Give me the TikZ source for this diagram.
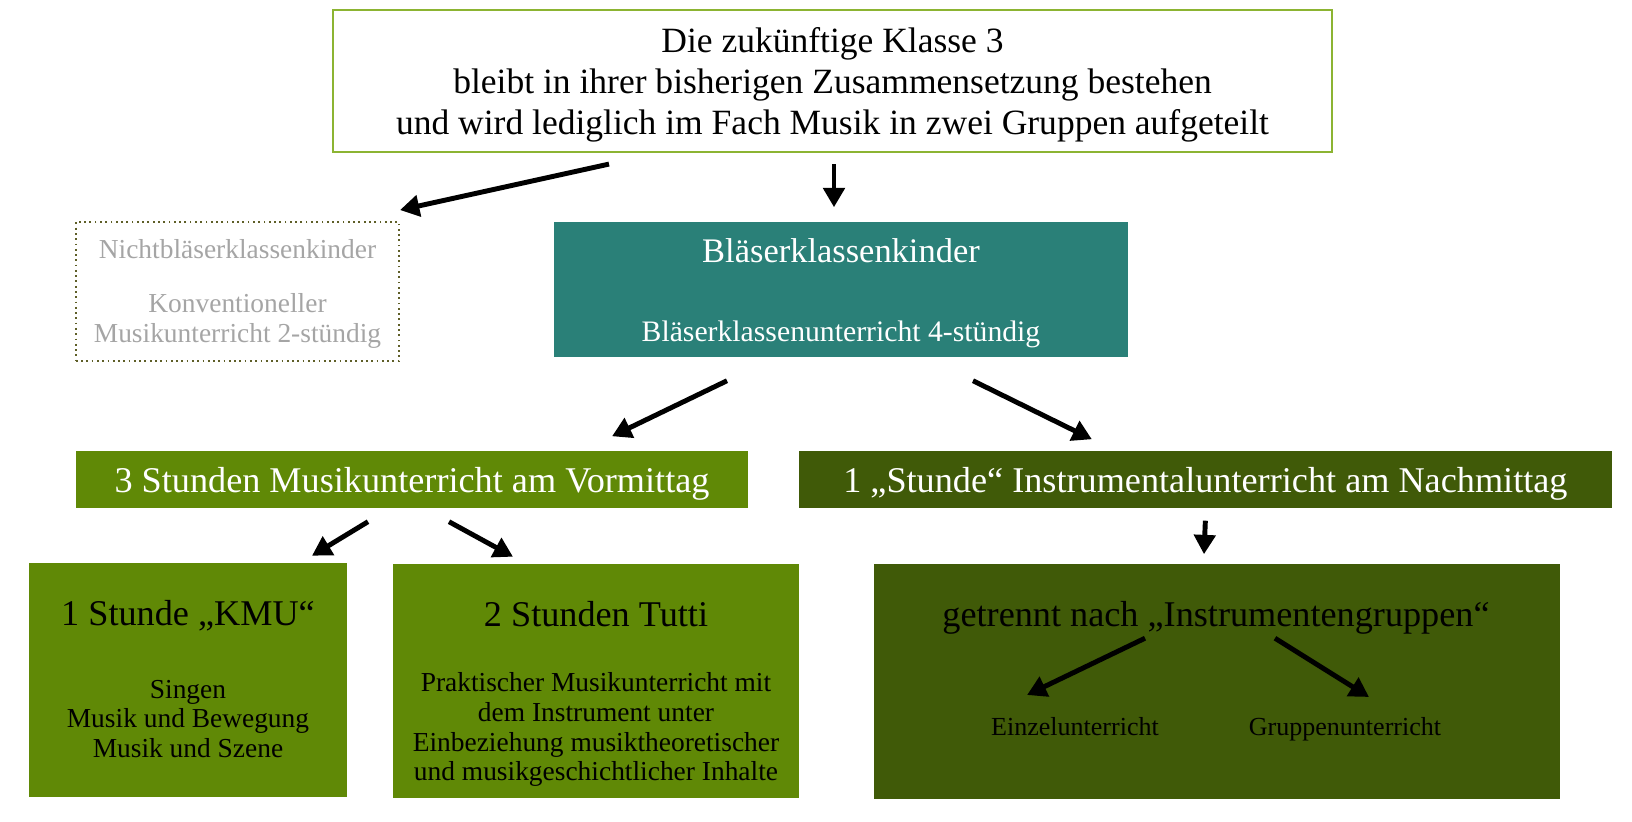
\documentclass[tikz,border=0pt]{standalone}
\usepackage{fontspec}
\setmainfont{Liberation Serif}
\usetikzlibrary{positioning, calc, arrows.meta}
\definecolor{framegreen}{RGB}{140,180,50}
\definecolor{dotolive}{RGB}{95,95,40}
\definecolor{kidsgray}{RGB}{165,165,165}
\definecolor{windteal}{RGB}{42,128,120}
\definecolor{amgreen}{RGB}{96,137,6}
\definecolor{pmgreen}{RGB}{64,90,8}

\begin{document}
\begin{tikzpicture}[
        x=0.01cm, y=-0.01cm,
        topbox/.style={rectangle, draw=framegreen, line width=0.6pt, fill=white,
                       minimum width=9.99cm, minimum height=1.42cm, align=center,
                       font=\fontsize{10.1}{11.7}\selectfont},
        kidsbox/.style={rectangle, draw=dotolive, densely dotted, line width=0.5pt,
                        minimum width=3.23cm, minimum height=1.39cm},
        kidstext/.style={align=center, text=kidsgray, font=\fontsize{7.8}{8.5}\selectfont},
        windbox/.style={rectangle, fill=windteal, minimum width=5.74cm, minimum height=1.35cm},
        amBar/.style={rectangle, fill=amgreen, minimum height=0.57cm, text=white,
                      text depth=0pt, font=\fontsize{10.3}{12}\selectfont},
        pmBar/.style={amBar, fill=pmgreen},
        lessonbox/.style={rectangle, fill=amgreen, minimum height=2.33cm},
        groupbox/.style={rectangle, fill=pmgreen, minimum width=6.86cm, minimum height=2.35cm},
        headtext/.style={font=\fontsize{10.3}{12}\selectfont, inner sep=0pt, anchor=base},
        bodytext/.style={font=\fontsize{7.8}{8.4}\selectfont, align=center, inner sep=0pt},
        smalltext/.style={font=\fontsize{7.4}{8}\selectfont, inner sep=0pt, anchor=base},
        flow/.style={-{Triangle[length=5.5pt, width=6pt]}, line width=1.4pt, black},
    ]
    \useasboundingbox (0,0) rectangle (1632,822);

    % ===== Top: the class =====
    \node[topbox] (klasse) at (832.5,81) {};
    \node[align=center, font=\fontsize{10.1}{11.7}\selectfont] (klasseT) at ($(klasse.center)+(0,4)$)
        {Die zukünftige Klasse 3\\
         bleibt in ihrer bisherigen Zusammensetzung bestehen\\
         und wird lediglich im Fach Musik in zwei Gruppen aufgeteilt};

    % ===== Second row =====
    \node[kidsbox] (nicht) at (237.5,291.5) {};
    \node[kidstext] (nichtT) at ($(nicht.center)+(0,2)$)
        {Nichtbläserklassenkinder\\[6.9pt]Konventioneller\\Musikunterricht 2-stündig};

    \node[windbox] (blaeser) at (841,289.5) {};
    \node[headtext, text=white, font=\fontsize{9.8}{11}\selectfont] (blaeserT)
        at ($(blaeser.north)+(0,41)$) {Bläserklassenkinder};
    \node[headtext, text=white, font=\fontsize{8.45}{9}\selectfont] (blaeserS)
        at ($(blaeser.north)+(0,120)$) {Bläserklassenunterricht 4-stündig};

    \draw[flow] ($(klasse.south)+(-223.5,11)$) -- ($(nicht.north east)+(0,-11)$);
    \draw[flow] ($(klasse.south)+(1.5,11)$) -- ($(blaeser.north)+(-7,-14)$);

    % ===== Third row: morning / afternoon =====
    \node[amBar, minimum width=6.72cm] (morning) at (412,479.5)
        {3 Stunden Musikunterricht am Vormittag};
    \node[pmBar, minimum width=8.13cm, right=0.49cm of morning] (afternoon)
        {1 „Stunde“ Instrumentalunterricht am Nachmittag};

    \draw[flow] ($(blaeser.south)+(-114,23)$) -- ($(morning.north)+(200,-14)$);
    \draw[flow] ($(blaeser.south)+(132,23)$) -- ($(afternoon.north)+(-113.5,-11)$);

    % ===== Bottom row =====
    \node[lessonbox, minimum width=3.18cm] (kmu) at (188,680) {};
    \node[headtext] (kmuT) at ($(kmu.north)+(0,63)$) {1 Stunde „KMU“};
    \node[bodytext] (kmuB) at ($(kmu.north)+(0,156)$)
        {Singen\\Musik und Bewegung\\Musik und Szene};

    \node[lessonbox, minimum width=4.06cm] (tutti) at (596,681) {};
    \node[headtext] (tuttiT) at ($(tutti.north)+(0,63)$) {2 Stunden Tutti};
    \node[bodytext] (tuttiB) at ($(tutti.north)+(0,166)$)
        {Praktischer Musikunterricht mit\\dem Instrument unter\\
         Einbeziehung musiktheoretischer\\und musikgeschichtlicher Inhalte};

    \node[groupbox] (instr) at (1217,681.5) {};
    \node[headtext] (instrT) at ($(instr.north)+(-1,63)$) {getrennt nach „Instrumentengruppen“};
    \node[smalltext] (einzel) at (1075,736) {Einzelunterricht};
    \node[smalltext] (gruppe) at (1345,736) {Gruppenunterricht};

    \draw[flow] ($(morning.south)+(-44,13)$) -- ($(kmu.north)+(124,-7)$);
    \draw[flow] ($(morning.south)+(37,13)$) -- ($(tutti.north)+(-83,-7)$);
    \draw[flow] ($(afternoon.south)+(0,12)$) -- ($(instr.north)+(-13,-9)$);
    \draw[flow] ($(instrT.base)+(-71,12)$) -- ($(einzel.base)+(-48,-41)$);
    \draw[flow] ($(instrT.base)+(59,12)$) -- ($(gruppe.base)+(24,-39)$);

    \end{tikzpicture}
\end{document}
